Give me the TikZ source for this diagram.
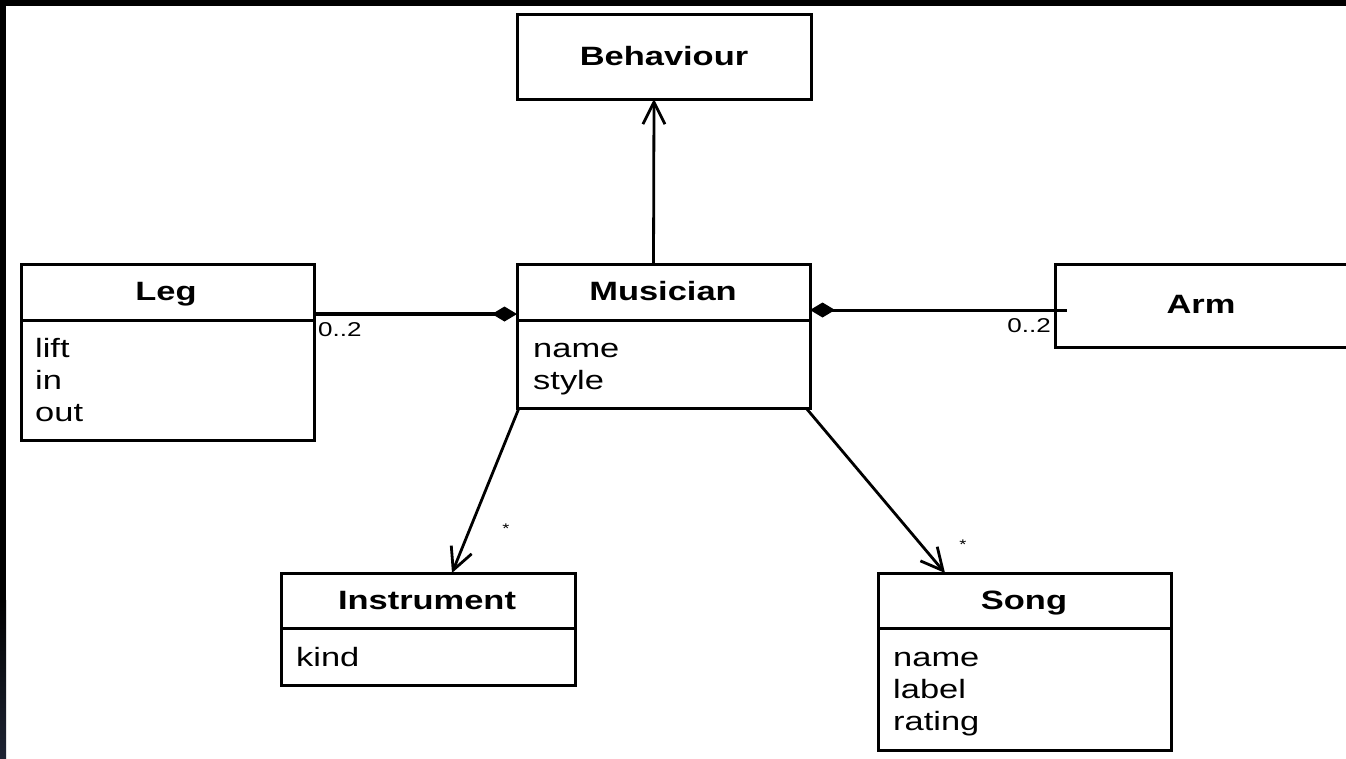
\documentclass[tikz,border=0pt]{standalone}
\usepackage{fontspec}
\setmainfont{Liberation Sans}[FakeStretch=1.3]
\usetikzlibrary{arrows.meta}

\begin{document}
\begin{tikzpicture}[x=1pt,y=-1pt,
  box/.style={draw, line width=3pt, inner sep=0pt, outer sep=0pt},
  divider/.style={line width=3pt},
  title/.style={font=\fontsize{26.5}{30}\selectfont\bfseries, anchor=base, inner sep=0pt},
  attr/.style={font=\fontsize{26.5}{30}\selectfont, anchor=base west, inner sep=0pt},
  mult/.style={font=\fontsize{20}{22}\selectfont, anchor=base west, inner sep=0pt},
  star/.style={font=\fontsize{14}{15}\selectfont, inner sep=0pt},
  assoc/.style={line width=2.8pt, -{Straight Barb[length=22pt,width=22pt,line width=2.8pt]}},
  comp/.style={{Diamond[length=25pt,width=15pt]}-},
]
\useasboundingbox (0,0) rectangle (1346,758);
\fill[white] (0,0) rectangle (1346,758);

% frame strips along top and left edge
\fill[black] (0,0) rectangle (1346,6);
\fill[black] (0,0) rectangle (6,600);
\shade[top color=black, bottom color={rgb,255:red,30;green,36;blue,52}] (0,600) rectangle (6,758);

% class boxes
\node[box, minimum width=294pt, minimum height=85pt]  (beh)  at (664,56.5)   {};
\node[box, minimum width=293pt, minimum height=144pt] (mus)  at (663.5,336)  {};
\node[box, minimum width=293pt, minimum height=176pt] (leg)  at (167.5,352)  {};
\node[box, minimum width=294pt, minimum height=112pt] (ins)  at (428,629)    {};
\node[box, minimum width=293pt, minimum height=177pt] (song) at (1024.5,661.5) {};
\node[box, minimum width=294pt, minimum height=83pt]  (arm)  at (1202,305.5) {};

% header dividers
\coordinate (hd1) at (0,320);
\coordinate (hd2) at (0,628);
\draw[divider] (mus.west |- hd1) -- (mus.east |- hd1);
\draw[divider] (leg.west |- hd1) -- (leg.east |- hd1);
\draw[divider] (ins.west |- hd2) -- (ins.east |- hd2);
\draw[divider] (song.west |- hd2) -- (song.east |- hd2);

% class names
\node[title] (behT)  at (664,65)    {Behaviour};
\node[title] (musT)  at (663,300)   {Musician};
\node[title] (legT)  at (166,300)   {Leg};
\node[title] (insT)  at (427,609)   {Instrument};
\node[title] (songT) at (1024,609)  {Song};
\node[title] (armT)  at (1201,313)  {Arm};

% attributes
\node[attr] (legA1) at (35,357) {lift};
\node[attr] (legA2) at (35,389) {in};
\node[attr] (legA3) at (35,421) {out};
\node[attr] (musA1) at (533,357) {name};
\node[attr] (musA2) at (533,389) {style};
\node[attr] (insA1) at (296,666) {kind};
\node[attr] (songA1) at (893,666) {name};
\node[attr] (songA2) at (893,698) {label};
\node[attr] (songA3) at (893,730) {rating};

% compositions
\coordinate (ly) at (0,314);
\coordinate (ay) at (0,310);
\draw[comp, line width=3.8pt] (mus.west |- ly) -- (leg.east |- ly);
\draw[comp, line width=3pt] (mus.east |- ay) -- ([xshift=12pt]arm.west |- ay);
\node[mult] (legM) at (318,336) {0..2};
\node[mult, anchor=base east] (armM) at (1051,332) {0..2};

% associations
\draw[assoc] ([xshift=-10pt]mus.north) -- ([xshift=-10pt]beh.south);
\draw[assoc] ([xshift=2pt]mus.south west) -- ([xshift=171pt]ins.north west);
\draw[assoc] ([xshift=-4pt]mus.south east) -- ([xshift=67pt]song.north west);
\node[star] (insS)  at (506,529) {*};
\node[star] (songS) at (963,545) {*};
\end{tikzpicture}
\end{document}
